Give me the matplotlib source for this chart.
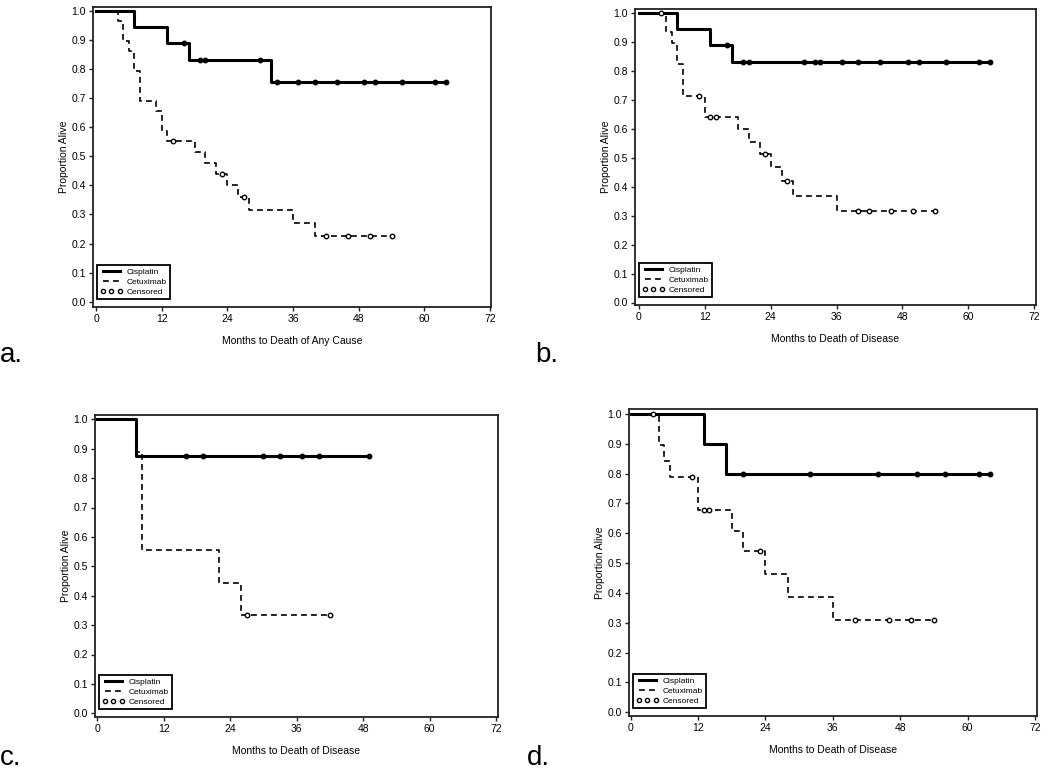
import matplotlib
matplotlib.use('Agg')
import matplotlib.pyplot as plt
from matplotlib.lines import Line2D
import numpy as np

plt.rcParams['font.family'] = ['Liberation Sans', 'DejaVu Sans']

# panel a - death of any cause
a_cis_t = [0, 7, 13, 17, 32]
a_cis_s = [1.0, 0.944, 0.889, 0.830, 0.755]
a_cis_cens = [16, 19, 20, 30, 33, 37, 40, 44, 49, 51, 56, 62, 64]
a_cet_t = [0, 4, 5, 6, 7, 8, 11, 12, 13, 18, 20, 22, 24, 26, 28, 36, 40]
a_cet_s = [1.0, 0.966, 0.897, 0.862, 0.793, 0.690, 0.655, 0.586, 0.552,
           0.515, 0.478, 0.441, 0.401, 0.361, 0.316, 0.271, 0.226]
a_cet_cens = [14, 23, 27, 42, 46, 50, 54]

# panel b - death of disease
b_cis_t = [0, 7, 13, 17]
b_cis_s = [1.0, 0.944, 0.889, 0.830]
b_cis_cens = [16, 19, 20, 30, 32, 33, 37, 40, 44, 49, 51, 56, 62, 64]
b_cet_t = [0, 5, 6, 7, 8, 12, 18, 20, 22, 24, 26, 28, 36]
b_cet_s = [1.0, 0.934, 0.894, 0.822, 0.714, 0.639, 0.599, 0.555, 0.511,
           0.466, 0.420, 0.368, 0.315]
b_cet_cens = [4, 11, 13, 14, 23, 27, 40, 42, 46, 50, 54]

# panel c
c_cis_t = [0, 7]
c_cis_s = [1.0, 0.875]
c_cis_cens = [16, 19, 30, 33, 37, 40, 49]
c_cet_t = [0, 7, 8, 22, 26]
c_cet_s = [1.0, 0.889, 0.556, 0.444, 0.333]
c_cet_cens = [27, 42]

# panel d
d_cis_t = [0, 13, 17]
d_cis_s = [1.0, 0.9, 0.8]
d_cis_cens = [20, 32, 44, 51, 56, 62, 64]
d_cet_t = [0, 5, 6, 7, 12, 18, 20, 24, 28, 36]
d_cet_s = [1.0, 0.895, 0.842, 0.789, 0.679, 0.609, 0.541, 0.464, 0.386, 0.310]
d_cet_cens = [4, 11, 13, 14, 23, 40, 46, 50, 54]

W, H = 1050, 774


def box(l, r, t, b):
    return [l / W, 1 - b / H, (r - l) / W, (b - t) / H]


def lim(spine_lo, spine_hi, v0, v1, p0, p1):
    # pixel -> data for the spine positions
    k = (v1 - v0) / (p1 - p0)
    return v0 + (spine_lo - p0) * k, v0 + (spine_hi - p0) * k


def surv_at(t, times, surv):
    i = np.searchsorted(times, t, side='right') - 1
    return surv[i]


def km(ax, times, surv, cens, solid):
    end = max(max(cens), times[-1])
    tt = list(times) + [end]
    ss = list(surv) + [surv[-1]]
    cy = [surv_at(c, times, surv) for c in cens]
    if solid:
        ax.step(tt, ss, where='post', color='black', lw=2.2, zorder=3)
        ax.plot(cens, cy, 'o', ms=3.2, mfc='black', mec='black', zorder=4)
    else:
        ax.step(tt, ss, where='post', color='black', lw=1.2,
                dashes=(3.5, 2.5), zorder=2)
        ax.plot(cens, cy, 'o', ms=3.2, mfc='white', mec='black', mew=1.0,
                zorder=4)


narrow = ['Liberation Sans Narrow', 'Liberation Sans', 'DejaVu Sans']
normal = ['Liberation Sans', 'DejaVu Sans']

panels = [
    (a_cis_t, a_cis_s, a_cis_cens, a_cet_t, a_cet_s, a_cet_cens,
     'Months to Death of Any Cause', 'a.', normal,
     box(93, 491, 7, 307), (93, 491, 96, 490), (7, 307, 11, 301.7)),
    (b_cis_t, b_cis_s, b_cis_cens, b_cet_t, b_cet_s, b_cet_cens,
     'Months to Death of Disease', 'b.', normal,
     box(635, 1036, 9, 305), (635, 1036, 639, 1034), (9, 305, 12.7, 302.5)),
    (c_cis_t, c_cis_s, c_cis_cens, c_cet_t, c_cet_s, c_cet_cens,
     'Months to Death of Disease', 'c.', narrow,
     box(95, 498, 415, 717), (95, 498, 97.3, 496), (415, 717, 419.3, 713.3)),
    (d_cis_t, d_cis_s, d_cis_cens, d_cet_t, d_cet_s, d_cet_cens,
     'Months to Death of Disease', 'd.', narrow,
     box(629, 1037, 409, 716), (629, 1037, 630.7, 1035), (409, 716, 414, 712.3)),
]

letter_pos = {'a.': (0, 355), 'b.': (535, 355), 'c.': (0, 758), 'd.': (527, 758)}

fig = plt.figure(figsize=(10.5, 7.74), dpi=100)

for (cis_t, cis_s, cis_c, cet_t, cet_s, cet_c, xlab, letter, fam, pos, xp, yp) in panels:
    ax = fig.add_axes(pos)
    km(ax, cet_t, cet_s, cet_c, False)
    km(ax, cis_t, cis_s, cis_c, True)
    ax.set_xlim(*lim(xp[0], xp[1], 0, 72, xp[2], xp[3]))
    ax.set_ylim(*lim(yp[1], yp[0], 0, 1, yp[3], yp[2]))
    ax.set_xticks(np.arange(0, 73, 12))
    ax.set_yticks(np.arange(0, 1.01, 0.1))
    ax.set_yticklabels(['%.1f' % v for v in np.arange(0, 1.01, 0.1)])
    ax.tick_params(direction='out', length=3, width=1, labelsize=7.5, pad=2,
                   color='#222222')
    for lab in ax.get_xticklabels():
        lab.set_family(fam)
    for s in ax.spines.values():
        s.set_linewidth(1.3)
        s.set_color('#222222')
    ax.set_xlabel(xlab, fontsize=7.5, labelpad=9, family=fam)
    ax.set_ylabel('Proportion Alive', fontsize=7.5, labelpad=2)
    handles = [
        Line2D([], [], color='black', lw=2.2),
        Line2D([], [], color='black', lw=1.2, dashes=(3.5, 2.5)),
        Line2D([], [], ls='none', marker='o', ms=3, mfc='white', mec='black'),
    ]
    leg = ax.legend(handles, ['Cisplatin', 'Cetuximab', 'Censored'],
                    loc='lower left', fontsize=6, numpoints=3,
                    handlelength=2.6, handletextpad=0.5, labelspacing=0.25,
                    borderpad=0.4, borderaxespad=0.5, fancybox=False,
                    framealpha=1, edgecolor='black',
                    bbox_to_anchor=(0, 0.012, 1, 1))
    leg.get_frame().set_linewidth(1.3)
    lx, ly = letter_pos[letter]
    fig.text(lx / W, 1 - ly / H, letter, fontsize=20, va='center', ha='left')

fig.savefig('out.png', dpi=100)
